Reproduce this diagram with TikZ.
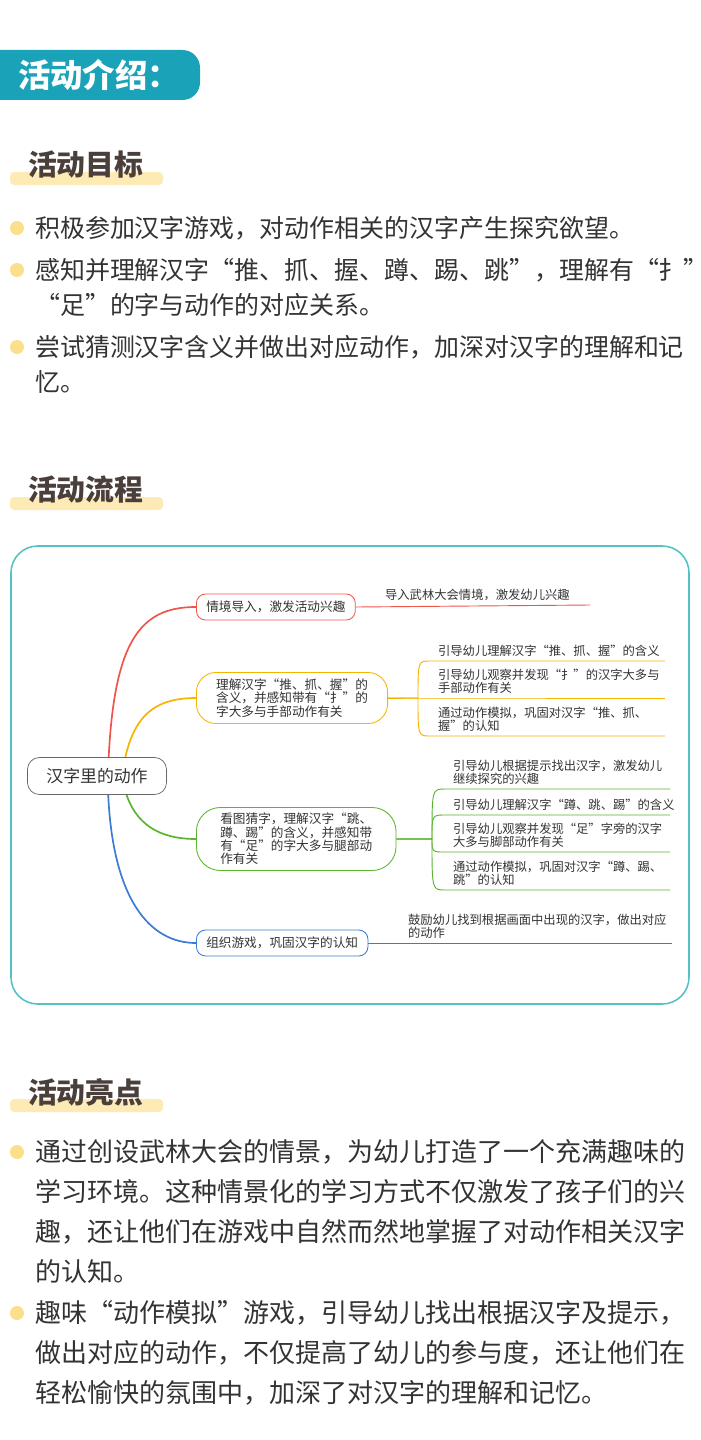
\documentclass[tikz,border=0pt]{standalone}
\usepackage{fontspec}
\setmainfont{Noto Sans CJK SC}
\definecolor{teal}{HTML}{1AA3B8}
\definecolor{frame}{HTML}{52C2C4}
\definecolor{dotc}{HTML}{FCDF8A}
\definecolor{barc}{HTML}{FDEAB5}
\definecolor{headc}{HTML}{4A3F3A}
\definecolor{bodyc}{HTML}{333333}
\definecolor{redb}{HTML}{F0554A}
\definecolor{orab}{HTML}{F5B400}
\definecolor{greb}{HTML}{5AB52F}
\definecolor{blub}{HTML}{3B7BD4}
\tikzset{
  head/.style={anchor=west,inner sep=0,text=headc,font=\fontsize{41}{41}\selectfont\bfseries},
  body/.style={anchor=north west,inner sep=0,text=bodyc,align=left},
  topic/.style={draw,line width=1.2pt,fill=white,text=bodyc,align=left,inner xsep=14pt,inner ysep=6pt,
    font=\fontsize{18}{19}\selectfont},
  leaf/.style={anchor=south west,inner sep=0,text=bodyc,align=left,font=\fontsize{17.5}{19}\selectfont},
  twig/.style={line width=1.3pt}
}
\begin{document}
\begin{tikzpicture}[x=0.5mm,y=-0.5mm]
\useasboundingbox[fill=white] (0,0) rectangle (700,1440);
% title banner
\fill[teal,rounded corners=25] (-30,50) rectangle (200,100);
\node[anchor=west,inner sep=0,text=white,font=\fontsize{46}{46}\selectfont\bfseries] (title) at (18,75) {活动介绍：};
% section headings
\foreach \y/\t [count=\k] in {165/活动目标,490/活动流程,1092/活动亮点}{
  \fill[barc,rounded corners=6] (10,\y+7) rectangle (163,\y+20);
  \node[head] (sec\k) at (28,\y) {\t};
}
% goals
\foreach \y in {228,270,347}
  \fill[dotc] (17,\y) circle (7);
\begin{scope}[every node/.style={body,font=\fontsize{35.5}{50}\selectfont}]
\node (goal1) at (35,216) {积极参加汉字游戏，对动作相关的汉字产生探究欲望。};
\node (goal2) at (35,258) {感知并理解汉字“推、抓、握、蹲、踢、跳”，理解有“扌”\\“足”的字与动作的对应关系。};
\node (goal3) at (35,335) {尝试猜测汉字含义并做出对应动作，加深对汉字的理解和记\\忆。};
\end{scope}
% highlights
\foreach \y in {1152,1313}
  \fill[dotc] (17,\y) circle (7);
\begin{scope}[every node/.style={body,font=\fontsize{37}{57}\selectfont}]
\node (high1) at (35,1139) {通过创设武林大会的情景，为幼儿打造了一个充满趣味的\\学习环境。这种情景化的学习方式不仅激发了孩子们的兴\\趣，还让他们在游戏中自然而然地掌握了对动作相关汉字\\的认知。};
\node (high2) at (35,1300) {趣味“动作模拟”游戏，引导幼儿找出根据汉字及提示，\\做出对应的动作，不仅提高了幼儿的参与度，还让他们在\\轻松愉快的氛围中，加深了对汉字的理解和记忆。};
\end{scope}
% mind map
\draw[frame,line width=2.2pt,rounded corners=38] (11,546) rectangle (689,1004);
\coordinate (c1) at (196,607);
\coordinate (c2) at (196,698);
\coordinate (c3) at (196,839);
\coordinate (c4) at (196,943);
\draw[redb,line width=2.4pt] (108,775) .. controls (112,640) and (140,607) .. (c1);
\draw[orab,line width=2.4pt] (122,775) .. controls (130,720) and (150,698) .. (c2);
\draw[greb,line width=2.4pt] (125,790) .. controls (135,825) and (160,839) .. (c3);
\draw[blub,line width=2.4pt] (108,790) .. controls (112,900) and (150,943) .. (c4);
\node[draw=black!60,line width=1pt,fill=white,rounded corners=17,minimum height=18.5mm,minimum width=69.5mm,text=bodyc,font=\fontsize{24}{24}\selectfont] (root) at (97,776) {汉字里的动作};
\node[topic,draw=redb,anchor=west,rounded corners=13,minimum height=13mm] (t1) at (c1) {情境导入，激发活动兴趣};
\node[topic,draw=orab,anchor=west,rounded corners=28,inner xsep=28pt,inner ysep=9pt] (t2) at (c2) {理解汉字“推、抓、握”的\\含义，并感知带有“扌”的\\字大多与手部动作有关};
\node[topic,draw=greb,anchor=west,rounded corners=34,inner xsep=34pt,inner ysep=8pt] (t3) at (c3) {看图猜字，理解汉字“跳、\\蹲、踢”的含义，并感知带\\有“足”的字大多与腿部动\\作有关};
\node[topic,draw=blub,anchor=west,rounded corners=13,minimum height=13mm] (t4) at (c4) {组织游戏，巩固汉字的认知};
% leaves
\draw[redb,twig] (t1.east) -- (590,605) coordinate (e1);
\node[leaf] (l1) at (385,601) {导入武林大会情境，激发幼儿兴趣};
\foreach \y/\t [count=\k] in {661/{引导幼儿理解汉字“推、抓、握”的含义},698/{引导幼儿观察并发现“扌”的汉字大多与\\手部动作有关},736/{通过动作模拟，巩固对汉字“推、抓、\\握”的认知}}{
  \draw[orab,twig] (t2.east) -- (418,698) .. controls (418,\y) .. (430,\y) -- (665,\y) coordinate (e2\k);
  \node[leaf] (l2\k) at (438,\y-4) {\t};
}
\foreach \y/\t [count=\k] in {789/{引导幼儿根据提示找出汉字，激发幼儿\\继续探究的兴趣},815/{引导幼儿理解汉字“蹲、跳、踢”的含义},852/{引导幼儿观察并发现“足”字旁的汉字\\大多与脚部动作有关},890/{通过动作模拟，巩固对汉字“蹲、踢、\\跳”的认知}}{
  \draw[greb,twig] (t3.east) -- (432,839) .. controls (432,\y) .. (445,\y) -- (670,\y) coordinate (e3\k);
  \node[leaf] (l3\k) at (453,\y-4) {\t};
}
\draw[blub,twig] (t4.east) -- (672,943) coordinate (e4);
\node[leaf] (l4) at (408,939) {鼓励幼儿找到根据画面中出现的汉字，做出对应\\的动作};
\end{tikzpicture}
\end{document}
